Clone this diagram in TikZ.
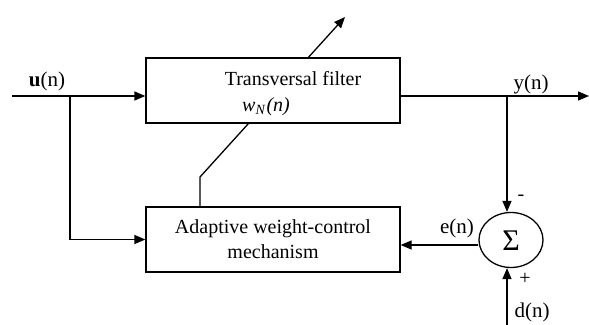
\documentclass[tikz,border=0pt]{standalone}
\usepackage{fontspec}
\setmainfont{Liberation Serif}
\usetikzlibrary{arrows.meta,shapes.geometric}
\begin{document}
\begin{tikzpicture}[x=0.5pt,y=-0.5pt,
  line width=0.65pt,
  arr/.style={-{Triangle[length=5.5pt,width=4.5pt]}},
  blk/.style={draw,fill=white,minimum width=127pt,minimum height=32.5pt,inner sep=0pt,font=\fontsize{10}{12.5}\selectfont,align=center},
  lbl/.style={inner sep=0pt,font=\fontsize{10.5}{12}\selectfont},
  sgn/.style={inner sep=0pt,font=\fontsize{10}{10}\selectfont}]
\useasboundingbox (0,0) rectangle (589,325);
% coordinates
\coordinate (in) at (12,96);
\coordinate (br1) at (70,96);
\coordinate (out) at (589,96);
\coordinate (br2) at (507,96);
\coordinate (dn) at (507,325);
\coordinate (k0) at (200,207);
\coordinate (k1) at (200,177);
\coordinate (k2) at (345,17);
% adaptation arrow (behind the filter box)
\draw[arr] (k0) -- (k1) -- (k2);
% blocks
\node[blk] (tf) at (273,90.5) {};
\node[lbl,font=\fontsize{10}{12}\selectfont] (tft) at (293,79) {Transversal filter};
\node[lbl,font=\fontsize{10}{12}\selectfont] (wn) at (266,107) {\textit{w}\textsubscript{\textit{N}}\textit{(n)}};
\node[blk] (aw) at (273,239.5) {Adaptive weight-control\\mechanism};
\node[draw,ellipse,minimum width=32pt,minimum height=27.5pt,inner sep=0pt] (sum) at (511,240) {};
\node[inner sep=0pt,font=\fontsize{15}{15}\selectfont] (sig) at (511,241) {Σ};
% connectors
\draw[arr] (in) -- (in -| tf.west);
\draw[arr] (br1) |- (aw.west);
\draw[arr] (in -| tf.east) -- (out);
\draw[arr] (br2) -- (br2 |- sum.north);
\draw[arr] (dn) -- (dn |- sum.south);
\draw[arr] (sum.west |- 0,245) -- (aw.east |- 0,245);
% labels
\node[lbl] (ul) at (47,81) {\textbf{u}(n)};
\node[lbl] (yl) at (531,84) {y(n)};
\node[lbl] (el) at (457,228) {e(n)};
\node[lbl] (dl) at (532,312) {d(n)};
\node[sgn] (minus) at (521,198) {-};
\node[sgn] (plus) at (525,279) {+};
\end{tikzpicture}
\end{document}
